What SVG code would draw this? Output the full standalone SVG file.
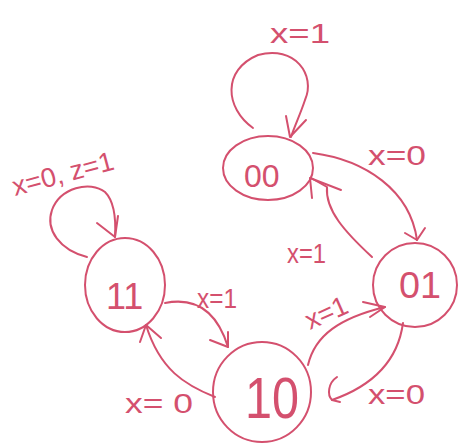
<svg xmlns="http://www.w3.org/2000/svg" width="460" height="443" viewBox="0 0 460 443">
<style>
.n{fill:none;stroke:#d4506e;stroke-width:2;stroke-linecap:round;stroke-linejoin:round}
.e{fill:none;stroke:#d4506e;stroke-width:2;stroke-linecap:round;stroke-linejoin:round}
.t{fill:#d4506e;font-family:"Liberation Sans",Arial,sans-serif}
.s{font-size:27px}
</style>
<rect width="460" height="443" fill="#ffffff"/>
<g id="connectors">
<!-- 00 self loop x=1 -->
<path class="e" d="M253,128 C225,108 222,70 258,55 C295,45 316,75 305,100 C300,115 295,125 291,137"/>
<path class="e" d="M286,116 L290,137 L306,120"/>
<text class="t s" x="270" y="43" font-size="31" textLength="60" lengthAdjust="spacingAndGlyphs">x=1</text>
<!-- 00 -> 01 x=0 -->
<path class="e" d="M313,153 C365,160 410,190 417,240"/>
<path class="e" d="M405,233 L417,240 L425,228"/>
<text class="t s" x="368" y="165" textLength="58" lengthAdjust="spacingAndGlyphs">x=0</text>
<!-- 01 -> 00 x=1 -->
<path class="e" d="M372,257 C345,232 325,210 327,187 L311,178"/>
<path class="e" d="M312,198 L310,178 L341,190"/>
<text class="t s" x="287" y="263" textLength="39" lengthAdjust="spacingAndGlyphs">x=1</text>
<!-- 11 self loop -->
<path class="e" d="M87,257 C60,250 45,230 52,210 C60,188 90,180 105,192 C115,202 116,220 115,237"/>
<path class="e" d="M97,223 L115,237 L118,216"/>
<text class="t s" transform="translate(15,196) rotate(-15)" textLength="104" lengthAdjust="spacingAndGlyphs">x=0, z=1</text>
<!-- 11 -> 10 x=1 -->
<path class="e" d="M165,303 C190,298 215,305 228,347"/>
<path class="e" d="M210,340 L228,347 L228,332"/>
<text class="t s" x="197" y="308" textLength="40" lengthAdjust="spacingAndGlyphs">x=1</text>
<!-- 10 -> 11 x=0 -->
<path class="e" d="M215,397 C185,385 160,370 146,325"/>
<path class="e" d="M140,342 L146,325 L161,338"/>
<text class="t s" x="125" y="413" font-size="29" textLength="68" lengthAdjust="spacingAndGlyphs">x= 0</text>
<!-- 10 -> 01 x=1 -->
<path class="e" d="M308,365 C315,335 340,318 385,307"/>
<path class="e" d="M363,302 L385,307 L370,317"/>
<text class="t s" transform="translate(310,330) rotate(-24)" textLength="44" lengthAdjust="spacingAndGlyphs">x=1</text>
<!-- 01 -> 10 x=0 -->
<path class="e" d="M403,323 C398,360 375,385 332,400"/>
<path class="e" d="M337,377 C328,383 327,395 332,400 L340,402"/>
<text class="t s" x="368" y="404" textLength="57" lengthAdjust="spacingAndGlyphs">x=0</text>
</g>
<g id="node-00">
<ellipse class="n" cx="268" cy="168" rx="45" ry="32"/>
<text class="t" x="244" y="187" font-size="32">00</text>
</g>
<g id="node-01">
<ellipse class="n" cx="415" cy="285" rx="42" ry="42"/>
<text class="t" x="399" y="298" font-size="36" textLength="42" lengthAdjust="spacingAndGlyphs">01</text>
</g>
<g id="node-11">
<ellipse class="n" cx="125" cy="285" rx="40" ry="47"/>
<text class="t" x="106" y="309" font-size="36">11</text>
</g>
<g id="node-10">
<ellipse class="n" cx="262" cy="392" rx="49" ry="50"/>
<text class="t" x="245" y="418" font-size="58" textLength="54" lengthAdjust="spacingAndGlyphs">10</text>
</g>
</svg>
